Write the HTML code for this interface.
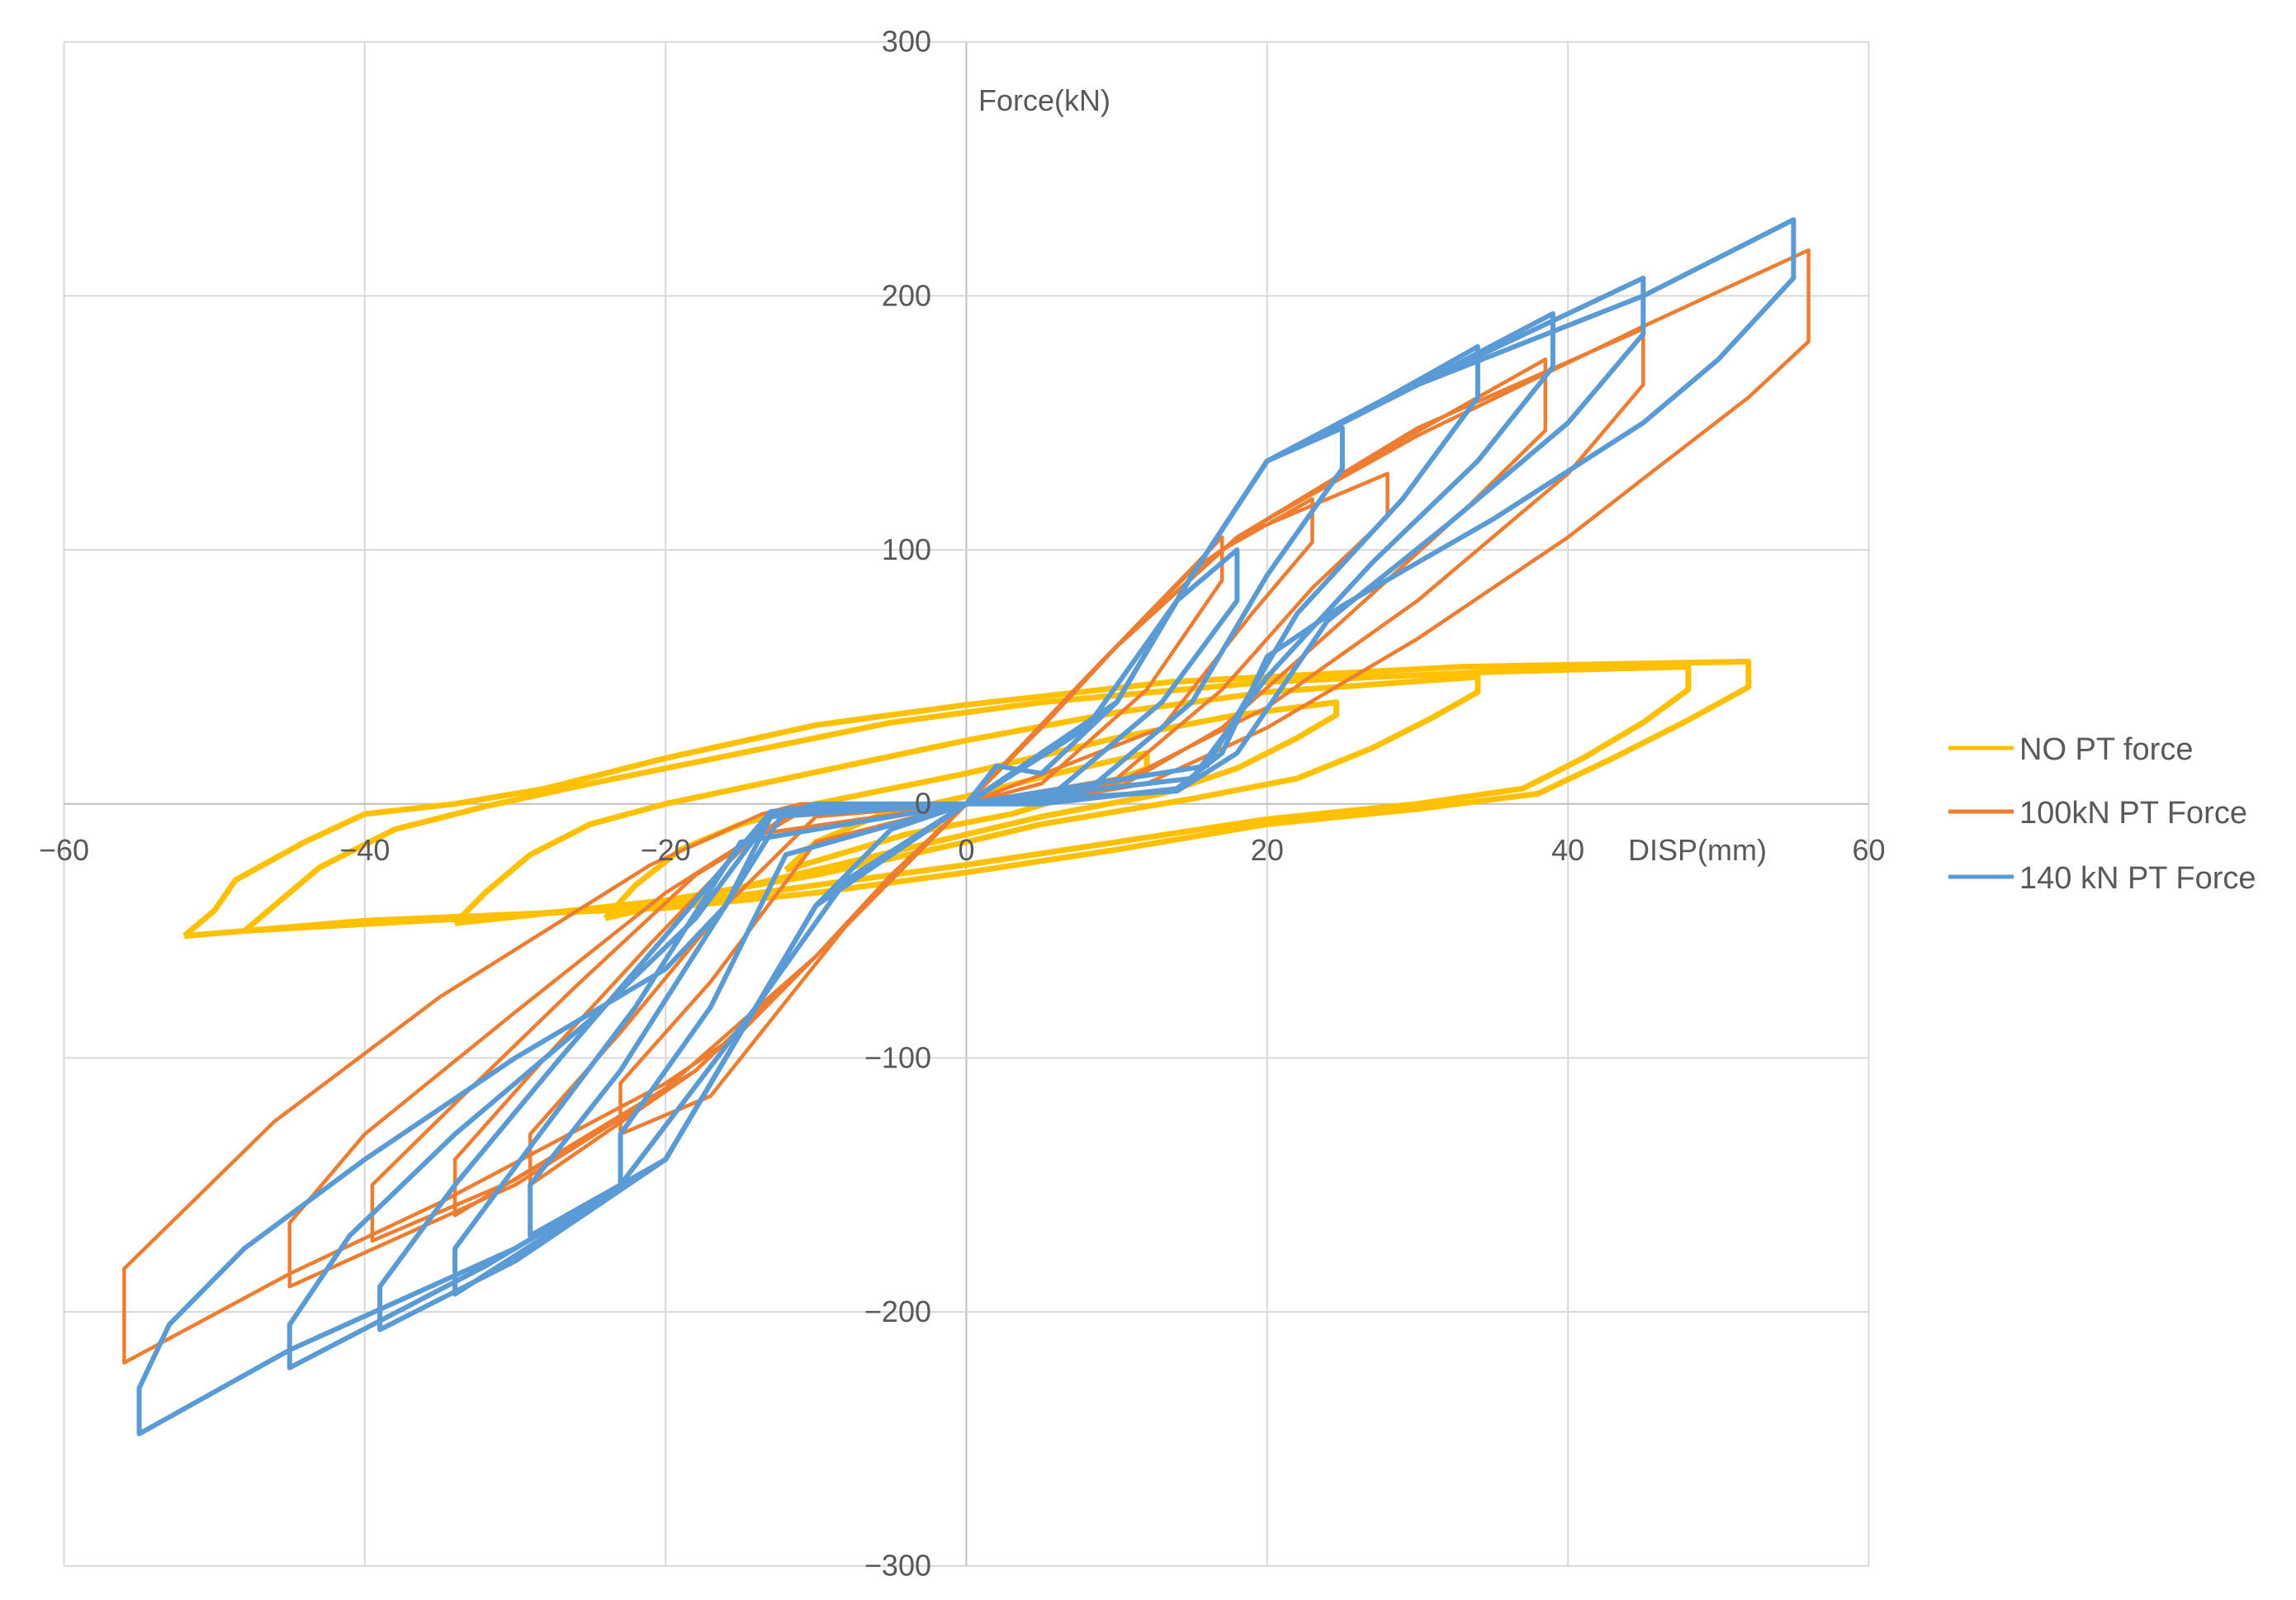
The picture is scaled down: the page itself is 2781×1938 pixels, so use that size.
<!DOCTYPE html>
<html><head><meta charset="utf-8"><style>
html,body{margin:0;padding:0;background:#fff;}
svg{display:block;font-family:"Liberation Sans",sans-serif;}
</style></head><body>
<svg id="chart" width="2781" height="1938" viewBox="0 0 2781 1938">
<g id="grid"></g>
<g id="series"></g>
<g id="labels"></g>
<text x="1185" y="134" font-size="36" fill="#595959">Force(kN)</text>
<text x="1972" y="1042" font-size="36" fill="#595959">DISP(mm)</text>
<g>
<g><line x1="2360" y1="906" x2="2439" y2="906" stroke="#FFC000" stroke-width="5"/><text x="2446" y="920" font-size="38" fill="#595959">NO PT force</text></g>
<g><line x1="2360" y1="983" x2="2439" y2="983" stroke="#ED7D31" stroke-width="5"/><text x="2446" y="997" font-size="38" fill="#595959">100kN PT Force</text></g>
<g><line x1="2360" y1="1062" x2="2439" y2="1062" stroke="#5B9BD5" stroke-width="5"/><text x="2446" y="1076" font-size="38" fill="#595959">140 kN PT Force</text></g>
</g>
</svg>
<script>
const xTicks=[-60,-40,-20,0,20,40,60];
const yTicks=[-300,-200,-100,0,100,200,300];
const xTickLabels=["\u221260","\u221240","\u221220","0","20","40","60"];
const yTickLabels=["\u2212300","\u2212200","\u2212100","0","100","200","300"];
const seriesNames=["NO PT force","100kN PT Force","140 kN PT Force"];
const noPtLoops=[
[[-52,-52],[-50,-42],[-48.6,-30],[-44,-15],[-40,-4],[-34,0],[-28,6],[-20,18],[-10,31],[0,39],[13.6,48],[33,54],[52,56],[52,46],[48,33],[43,18],[38,4],[30,-2],[20,-8],[10,-18],[0,-27],[-10,-35],[-20,-41],[-40,-46],[-52,-52]],
[[-48,-50],[-46,-40],[-43,-25],[-38,-10],[-32,-1],[-25,8],[-15,20],[-5,32],[5,40],[20,48],[35,52],[48,54],[48,45],[45,32],[41,18],[37,6],[30,0],[20,-6],[10,-15],[0,-24],[-15,-36],[-30,-44],[-48,-50]],
[[-34,-47],[-32,-35],[-29,-20],[-25,-8],[-20,0],[-12,10],[0,25],[10,36],[20,44],[34,50],[34,44],[31,34],[27,22],[22,10],[15,2],[5,-8],[0,-15],[-10,-28],[-20,-38],[-34,-47]],
[[-24,-45],[-22,-32],[-19,-18],[-15,-8],[-10,0],[0,12],[10,26],[18,35],[24.6,40],[24.6,35],[22,26],[18,14],[13,4],[5,-5],[0,-12],[-10,-26],[-24,-45]],
[[-12,-26],[-10,-15],[-6,-5],[0,3],[6,12],[12,20],[12,14],[8,5],[3,-4],[-4,-12],[-12,-26]]
];
const pt100Loops=[
[[0,0],[5,30],[10,62],[15,92],[20,112],[30,145],[45,188],[56,218],[56,182],[52,160],[45,128],[40,105],[30,65],[20,30],[12,8],[5,1],[0,0],[-5,-28],[-10,-60],[-15,-90],[-20,-110],[-35,-157],[-45,-185],[-56,-220],[-56,-183],[-46,-125],[-35,-76],[-21,-24],[-13.6,-4],[-11,0],[0,0]],
[[0,0],[10,62],[18,105],[30,148],[45,187],[45,165],[40,130],[30,80],[20,38],[10,8],[0,0],[-10,-60],[-18,-105],[-30,-150],[-45,-190],[-45,-165],[-40,-130],[-30,-82],[-20,-35],[-12,-5],[0,0]],
[[0,0],[10,62],[18,105],[28,140],[38.5,175],[38.5,147],[33,115],[25,72],[17,30],[10,6],[0,0],[-10,-60],[-18,-105],[-30,-148],[-39.5,-172],[-39.5,-150],[-34,-118],[-26,-72],[-18,-28],[-11,-3],[0,0]],
[[0,0],[10,62],[18,105],[28,130],[28,113],[23,85],[17,45],[10,10],[0,0],[-10,-60],[-20,-112],[-34,-162],[-34,-140],[-28,-100],[-21,-55],[-14,-12],[0,0]],
[[0,0],[10,62],[17,100],[23,120],[23,103],[19,75],[13,30],[0,0],[-10,-60],[-18,-105],[-29,-150],[-29,-130],[-23,-90],[-16,-40],[-10,-5],[0,0]],
[[0,0],[8,50],[17,105],[17,88],[12,45],[5,8],[0,0],[-8,-48],[-17,-115],[-23,-130],[-23,-110],[-17,-70],[-10,-15],[0,0]]
];
const pt140Loops=[
[[0,0],[2,15],[5,12],[10,40],[15,90],[20,135],[30,165],[45,200],[55,230],[55,207],[50,175],[45,150],[35,112],[25,78],[20,58],[17,20],[14,6],[5,0],[0,0],[-5,-10],[-10,-40],[-15,-90],[-20,-140],[-30,-175],[-45,-215],[-55,-248],[-55,-230],[-53,-205],[-48,-175],[-40,-140],[-30,-100],[-20,-65],[-16,-40],[-13,-5],[-10,0],[0,0]],
[[0,0],[10,40],[15,90],[20,135],[30,165],[45,207],[45,185],[40,150],[32,110],[24,72],[18,20],[14,5],[0,0],[-10,-40],[-15,-90],[-20,-140],[-32,-182],[-45,-222],[-45,-205],[-41,-170],[-34,-130],[-25,-85],[-18,-45],[-13,-5],[0,0]],
[[0,0],[10,40],[15,90],[20,135],[30,165],[39,193],[39,172],[34,135],[27,95],[20,50],[15,10],[0,0],[-10,-40],[-15,-90],[-20,-140],[-30,-180],[-39,-207],[-39,-190],[-34,-150],[-27,-100],[-19,-45],[-13,-3],[0,0]],
[[0,0],[10,40],[15,90],[20,135],[28,160],[34,180],[34,160],[29,120],[22,75],[16,15],[0,0],[-10,-40],[-15,-90],[-20,-140],[-34,-193],[-34,-175],[-29,-135],[-22,-80],[-15,-15],[0,0]],
[[0,0],[10,40],[15,90],[20,135],[25,148],[25,132],[20,90],[15,40],[8,5],[0,0],[-10,-40],[-15,-90],[-20,-140],[-29,-170],[-29,-150],[-23,-105],[-16,-40],[-12,-2],[0,0]],
[[0,0],[8,30],[14,80],[18,100],[18,80],[13,40],[6,5],[0,0],[-8,-30],[-14,-80],[-23,-150],[-23,-130],[-17,-80],[-12,-20],[0,0]]
];
const X0=1170.5,XS=1093/60,Y0=973.7,YS=923/300;
function sx(v){return X0+v*XS;}
function sy(v){return Y0-v*YS;}
const NS="http://www.w3.org/2000/svg";
const grid=document.getElementById('grid');
const labels=document.getElementById('labels');
xTicks.forEach((t,i)=>{
  const l=document.createElementNS(NS,'line');
  l.setAttribute('x1',sx(t));l.setAttribute('x2',sx(t));
  l.setAttribute('y1',sy(300));l.setAttribute('y2',sy(-300));
  l.setAttribute('stroke',t===0?'#bfbfbf':'#d9d9d9');l.setAttribute('stroke-width','2');
  
  
  grid.appendChild(l);
  const tx=document.createElementNS(NS,'text');
  tx.setAttribute('x',sx(t));tx.setAttribute('y',1042);
  tx.setAttribute('text-anchor','middle');tx.setAttribute('font-size','36');tx.setAttribute('fill','#595959');
  tx.textContent=xTickLabels[i];
  
  
  labels.appendChild(tx);
});
yTicks.forEach((t,i)=>{
  const l=document.createElementNS(NS,'line');
  l.setAttribute('x1',sx(-60));l.setAttribute('x2',sx(60));
  l.setAttribute('y1',sy(t));l.setAttribute('y2',sy(t));
  l.setAttribute('stroke',t===0?'#bfbfbf':'#d9d9d9');l.setAttribute('stroke-width','2');
  
  
  grid.appendChild(l);
  const tx=document.createElementNS(NS,'text');
  tx.setAttribute('x',1128);tx.setAttribute('y',sy(t)+12);
  tx.setAttribute('text-anchor','end');tx.setAttribute('font-size','36');tx.setAttribute('fill','#595959');
  tx.textContent=yTickLabels[i];
  
  
  labels.appendChild(tx);
});
const seriesG=document.getElementById('series');
function drawLoops(loops,color,w,name){
  loops.forEach(lp=>{
    const p=document.createElementNS(NS,'polyline');
    p.setAttribute('points',lp.map(q=>sx(q[0]).toFixed(1)+','+sy(q[1]).toFixed(1)).join(' '));
    p.setAttribute('fill','none');p.setAttribute('stroke',color);p.setAttribute('stroke-width',w);
    p.setAttribute('stroke-linejoin','round');
    
    
    seriesG.appendChild(p);
  });
}
drawLoops(noPtLoops,'#FFC000',7,'no-pt-loop');
drawLoops(pt100Loops,'#ED7D31',4.5,'pt100-loop');
drawLoops(pt140Loops,'#5B9BD5',6,'pt140-loop');
</script>
</body></html>
